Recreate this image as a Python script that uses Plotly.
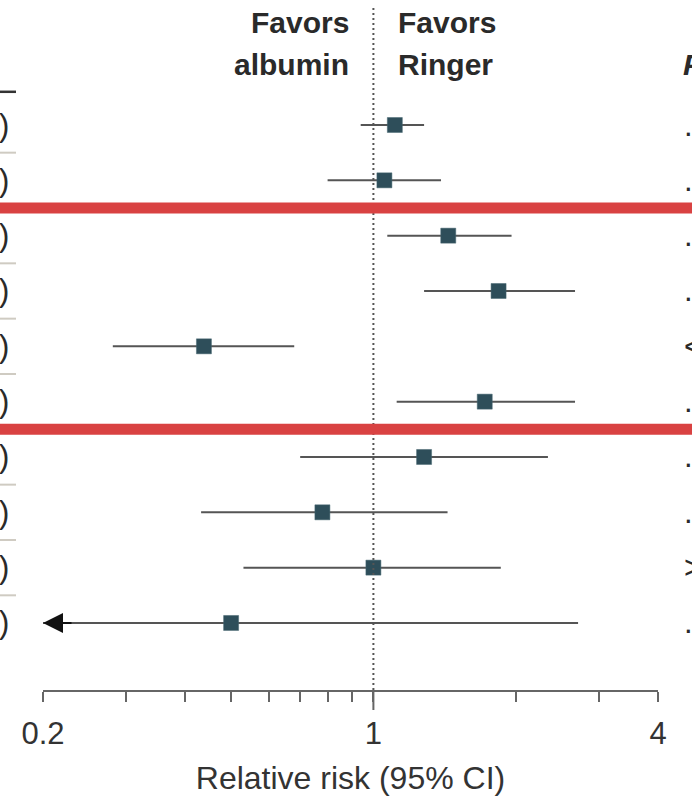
import plotly.graph_objects as go
import math

# ---- data ----
rows = list(range(10))
rr = [1.11, 1.055, 1.44, 1.84, 0.438, 1.72, 1.28, 0.78, 1.00, 0.50]
ci_low = [0.94, 0.80, 1.07, 1.28, 0.281, 1.12, 0.70, 0.432, 0.531, 0.18]
ci_high = [1.28, 1.39, 1.96, 2.67, 0.68, 2.67, 2.34, 1.435, 1.86, 2.71]
p_text = [".", ".", ".", ".", "<", ".", ".", ".", ">", "."]
tick_vals = [0.2, 1, 4]
tick_text = ["0.2", "1", "4"]
minor_vals = [0.3, 0.4, 0.5, 0.6, 0.7, 0.8, 0.9, 2, 3]
red_after = [1, 5]           # red highlight bars after these rows
gray_after = [0, 2, 3, 4, 6, 7, 8]

FONT = "Liberation Sans, Arial, sans-serif"
W, H = 692, 799
ML, MR, MT, MB = 43, 34, 0, 109
PW = W - ML - MR
PH = H - MT - MB
ROW0, ROWSTEP = 125, 55.33
y_top = -(ROW0 - MT) / ROWSTEP
y_bot = (MT + PH - ROW0) / ROWSTEP

def px_to_paper_x(px):
    return (px - ML) / PW

def px_to_paper_y(py):
    return 1 - (py - MT) / PH

fig = go.Figure()

# CI lines
for i in rows:
    fig.add_trace(go.Scatter(x=[ci_low[i], ci_high[i]], y=[i, i], mode="lines",
                             line=dict(color="#555555", width=2), showlegend=False,
                             hoverinfo="skip"))
# point estimates
fig.add_trace(go.Scatter(x=rr, y=rows, mode="markers",
                         marker=dict(symbol="square", size=15, color="#2e4e5a",
                                     line=dict(color="#466670", width=0.5)),
                         showlegend=False))

shapes = []
# dotted reference line at 1
shapes.append(dict(type="line", xref="x", yref="paper", x0=1, x1=1,
                   y0=0, y1=px_to_paper_y(5),
                   line=dict(color="#555555", width=2, dash="2px,3px")))
# long tick at 1
shapes.append(dict(type="line", xref="x", yref="paper", x0=1, x1=1,
                   y0=0, y1=px_to_paper_y(MT + PH + 20),
                   line=dict(color="#666666", width=2)))
# header underline at left
shapes.append(dict(type="line", xref="paper", yref="y",
                   x0=px_to_paper_x(-2), x1=px_to_paper_x(16), y0=-0.6, y1=-0.6,
                   line=dict(color="#333333", width=2.5)))
for g in gray_after:
    shapes.append(dict(type="line", xref="paper", yref="y",
                       x0=px_to_paper_x(-2), x1=px_to_paper_x(16),
                       y0=g + 0.5, y1=g + 0.5,
                       line=dict(color="#cfcbc2", width=2)))
for r in red_after:
    shapes.append(dict(type="line", xref="paper", yref="y", layer="above",
                       x0=px_to_paper_x(-5), x1=px_to_paper_x(W + 5),
                       y0=r + 0.5, y1=r + 0.5,
                       line=dict(color="#d94242", width=11)))

annotations = []
# header texts
hdr = dict(font=dict(family=FONT, size=30, color="#2a2a2a", weight="bold"),
           showarrow=False, xref="x", yref="paper")
annotations.append(dict(text="Favors", x=math.log10(1), xanchor="right", xshift=-22,
                        y=px_to_paper_y(23), yanchor="middle", **hdr))
annotations.append(dict(text="albumin", x=math.log10(1), xanchor="right", xshift=-22,
                        y=px_to_paper_y(64), yanchor="middle", **hdr))
annotations.append(dict(text="Favors", x=math.log10(1), xanchor="left", xshift=23,
                        y=px_to_paper_y(23), yanchor="middle", **hdr))
annotations.append(dict(text="Ringer", x=math.log10(1), xanchor="left", xshift=23,
                        y=px_to_paper_y(64), yanchor="middle", **hdr))
# P column header (cropped by the image edge, as in the reference)
annotations.append(dict(text="<i>P</i>", xref="paper", yref="paper",
                        x=px_to_paper_x(681), xanchor="left",
                        y=px_to_paper_y(64), yanchor="middle", showarrow=False,
                        font=dict(family=FONT, size=30, color="#2a2a2a", weight="bold")))
# left column ")" and right column p-value starts
for i in rows:
    annotations.append(dict(text=")", xref="paper", yref="y",
                            x=px_to_paper_x(11), xanchor="right", y=i, yanchor="middle",
                            showarrow=False,
                            font=dict(family=FONT, size=31, color="#2a2a2a")))
    annotations.append(dict(text=p_text[i], xref="paper", yref="y",
                            x=px_to_paper_x(682), xanchor="left", y=i, yanchor="middle",
                            showarrow=False,
                            font=dict(family=FONT, size=31, color="#2a2a2a")))
# arrow for CI extending below the axis range
for i in rows:
    if ci_low[i] < tick_vals[0]:
        annotations.append(dict(text="", x=math.log10(tick_vals[0]), y=i, xref="x", yref="y",
                                showarrow=True, ax=30, ay=0, arrowhead=2, arrowsize=2.0,
                                arrowwidth=2, arrowcolor="#111111", standoff=0))

fig.update_layout(
    width=W, height=H,
    margin=dict(l=ML, r=MR, t=MT, b=MB, pad=0),
    paper_bgcolor="white", plot_bgcolor="white",
    shapes=shapes, annotations=annotations,
    xaxis=dict(type="log", range=[math.log10(0.2), math.log10(4)],
               showgrid=False, zeroline=False, showline=True,
               linecolor="#666666", linewidth=2,
               ticks="outside", ticklen=10, tickwidth=2, tickcolor="#666666",
               tickvals=tick_vals, ticktext=tick_text, ticklabelstandoff=5,
               tickfont=dict(family=FONT, size=31, color="#333333"),
               minor=dict(tickvals=minor_vals, ticks="outside", ticklen=10,
                          tickwidth=2, tickcolor="#666666", showgrid=False),
               title=dict(text="Relative risk (95% CI)",
                          font=dict(family=FONT, size=32, color="#333333"),
                          standoff=16)),
    yaxis=dict(range=[y_bot, y_top], visible=False, showgrid=False, zeroline=False),
    showlegend=False,
)

fig.write_html("out.html")
